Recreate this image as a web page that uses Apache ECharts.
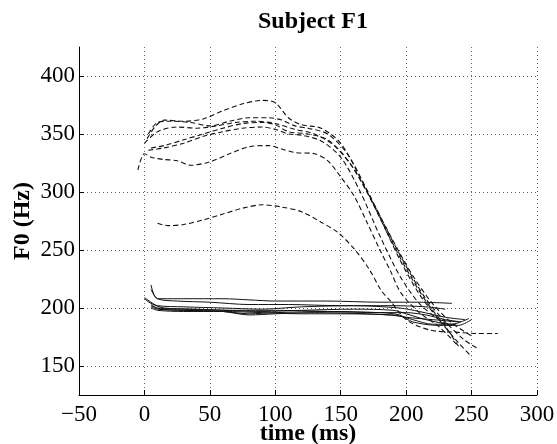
<!DOCTYPE html>
<html>
<head>
<meta charset="utf-8">
<script src="https://cdn.jsdelivr.net/npm/echarts@6/dist/echarts.min.js"></script>
<style>
  html, body { margin: 0; padding: 0; background: #fff; }
  #chart { width: 557px; height: 444px; }
</style>
</head>
<body>
<div id="chart"></div>
<script>
// tick values
const timeTicks = [-50, 0, 50, 100, 150, 200, 250, 300];
const f0Ticks = [150, 200, 250, 300, 350, 400];

// dashed contours [time ms, F0 Hz]
const rise1 = [[2, 346], [8, 356], [15, 362], [30, 361], [45, 363], [60, 370], [75, 376], [90, 379], [100, 377], [110, 364], [120, 358], [135, 355], [150, 342], [165, 312], [180, 278], [195, 242], [210, 212], [225, 190], [240, 170], [250, 158]];
const rise2 = [[3, 350], [10, 360], [20, 361], [35, 360], [50, 357], [65, 361], [80, 364], [95, 364], [105, 362], [115, 357], [125, 355], [140, 350], [155, 333], [170, 302], [185, 268], [200, 236], [215, 208], [230, 188], [245, 172], [255, 165]];
const rise3 = [[5, 338], [15, 340], [30, 345], [45, 350], [60, 355], [75, 359], [90, 360], [100, 358], [110, 352], [125, 350], [140, 345], [155, 328], [170, 300], [185, 266], [200, 234], [215, 206], [230, 184], [240, 167]];
const rise4 = [[3, 336], [15, 338], [30, 342], [45, 348], [60, 352], [75, 355], [90, 356], [100, 354], [110, 350], [120, 349], [135, 344], [150, 330], [165, 300], [180, 262], [195, 228], [210, 204], [225, 190], [235, 185]];
const rise5 = [[0, 342], [10, 352], [25, 356], [40, 355], [55, 357], [70, 360], [85, 361], [100, 359], [115, 354], [130, 350], [145, 340], [160, 320], [175, 290], [190, 258], [205, 228], [220, 204], [235, 187], [250, 176]];
const rise6 = [[-5, 319], [0, 333], [5, 330], [15, 328], [25, 327], [35, 323], [50, 326], [65, 333], [80, 339], [95, 340], [105, 337], [115, 334], [130, 333], [140, 327], [150, 313], [160, 297], [170, 274], [180, 250], [188, 232], [196, 213], [210, 196], [225, 184], [240, 167]];
const rise7 = [[10, 273], [18, 271], [30, 272], [45, 276], [60, 281], [75, 286], [90, 289], [105, 287], [120, 283], [135, 274], [148, 265], [161, 250], [172, 233], [181, 215], [188, 206], [200, 190], [218, 181], [240, 179], [255, 178], [270, 178]];
const risingSets = [rise1, rise2, rise3, rise4, rise5, rise6, rise7];

// solid contours [time ms, F0 Hz]
const flat1 = [[5, 220], [10, 208], [30, 208], [60, 208], [80, 207], [100, 206], [140, 206], [180, 205], [210, 205], [235, 204]];
const flat2 = [[5, 216], [10, 208], [25, 206], [50, 205], [80, 203], [110, 203], [150, 202], [190, 202], [215, 201], [230, 199]];
const flat3 = [[0, 209], [5, 205], [10, 202], [30, 201], [60, 200], [90, 199], [120, 201], [160, 202], [195, 200], [210, 197], [230, 192], [245, 190]];
const flat4 = [[5, 203], [10, 200], [30, 199], [60, 198], [90, 197], [120, 198], [160, 199], [190, 198], [200, 195], [215, 190], [235, 186], [248, 191]];
const flat5 = [[5, 201], [10, 199], [30, 198], [60, 197], [80, 195], [100, 196], [140, 197], [180, 196], [195, 194], [205, 188], [225, 185], [240, 185], [250, 190]];
const flat6 = [[5, 200], [10, 198], [30, 197], [60, 197], [90, 196], [120, 195], [150, 195], [190, 194], [200, 192], [220, 190], [240, 188]];
const flat7 = [[5, 202], [12, 199], [30, 198], [60, 197], [80, 194], [100, 195], [130, 196], [170, 195], [195, 193], [205, 190], [220, 186], [238, 186]];
const flat8 = [[0, 208], [5, 204], [15, 200], [40, 199], [70, 198], [100, 198], [140, 197], [180, 196], [200, 196], [215, 194], [230, 190], [242, 188]];
const flatSets = [flat1, flat2, flat3, flat4, flat5, flat6, flat7, flat8];

const serif = "'Liberation Serif', 'DejaVu Serif', serif";

const chart = echarts.init(document.getElementById('chart'));

const series = [];
risingSets.forEach((d) => {
  series.push({
    type: 'line',
    data: d,
    symbol: 'none',
    smooth: 0.3,
    silent: true,
    lineStyle: { color: '#111', width: 1.1, type: [5, 3] }
  });
});
flatSets.forEach((d) => {
  series.push({
    type: 'line',
    data: d,
    symbol: 'none',
    smooth: 0.3,
    silent: true,
    lineStyle: { color: '#111', width: 1 }
  });
});

chart.setOption({
  animation: false,
  title: {
    text: 'Subject F1',
    left: 308,
    top: 5,
    textAlign: 'center',
    textStyle: { fontFamily: serif, fontSize: 24, fontWeight: 'bold', color: '#000' }
  },
  grid: { left: 79, right: 20, top: 47, bottom: 49, outerBoundsMode: 'none' },
  xAxis: {
    type: 'value',
    min: -50,
    max: 300,
    interval: 50,
    name: 'time (ms)',
    nameLocation: 'middle',
    nameGap: 27,
    nameMoveOverlap: false,
    nameTextStyle: { fontFamily: serif, fontSize: 24, fontWeight: 'bold', color: '#000' },
    axisLine: { onZero: false, lineStyle: { color: '#000', width: 1 } },
    axisTick: { inside: true, length: 5, lineStyle: { color: '#000' } },
    axisLabel: {
      fontFamily: serif,
      fontSize: 23,
      color: '#000',
      margin: 8,
      customValues: timeTicks,
      formatter: (v) => (v < 0 ? '\u2212' + (-v) : String(v))
    },
    splitLine: { show: true, lineStyle: { color: '#666', width: 1, type: [1, 3] } }
  },
  yAxis: {
    type: 'value',
    min: 125,
    max: 425,
    name: 'F0 (Hz)',
    nameLocation: 'middle',
    nameGap: 44,
    nameRotate: 90,
    nameMoveOverlap: false,
    nameTextStyle: { fontFamily: serif, fontSize: 24, fontWeight: 'bold', color: '#000' },
    axisLine: { show: true, onZero: false, lineStyle: { color: '#000', width: 1 } },
    axisTick: { show: true, inside: true, length: 5, customValues: f0Ticks, lineStyle: { color: '#000' } },
    axisLabel: { fontFamily: serif, fontSize: 23, color: '#000', margin: 4, customValues: f0Ticks },
    splitLine: { show: true, lineStyle: { color: '#666', width: 1, type: [1, 3] } }
  },
  series: series
});
</script>
</body>
</html>
